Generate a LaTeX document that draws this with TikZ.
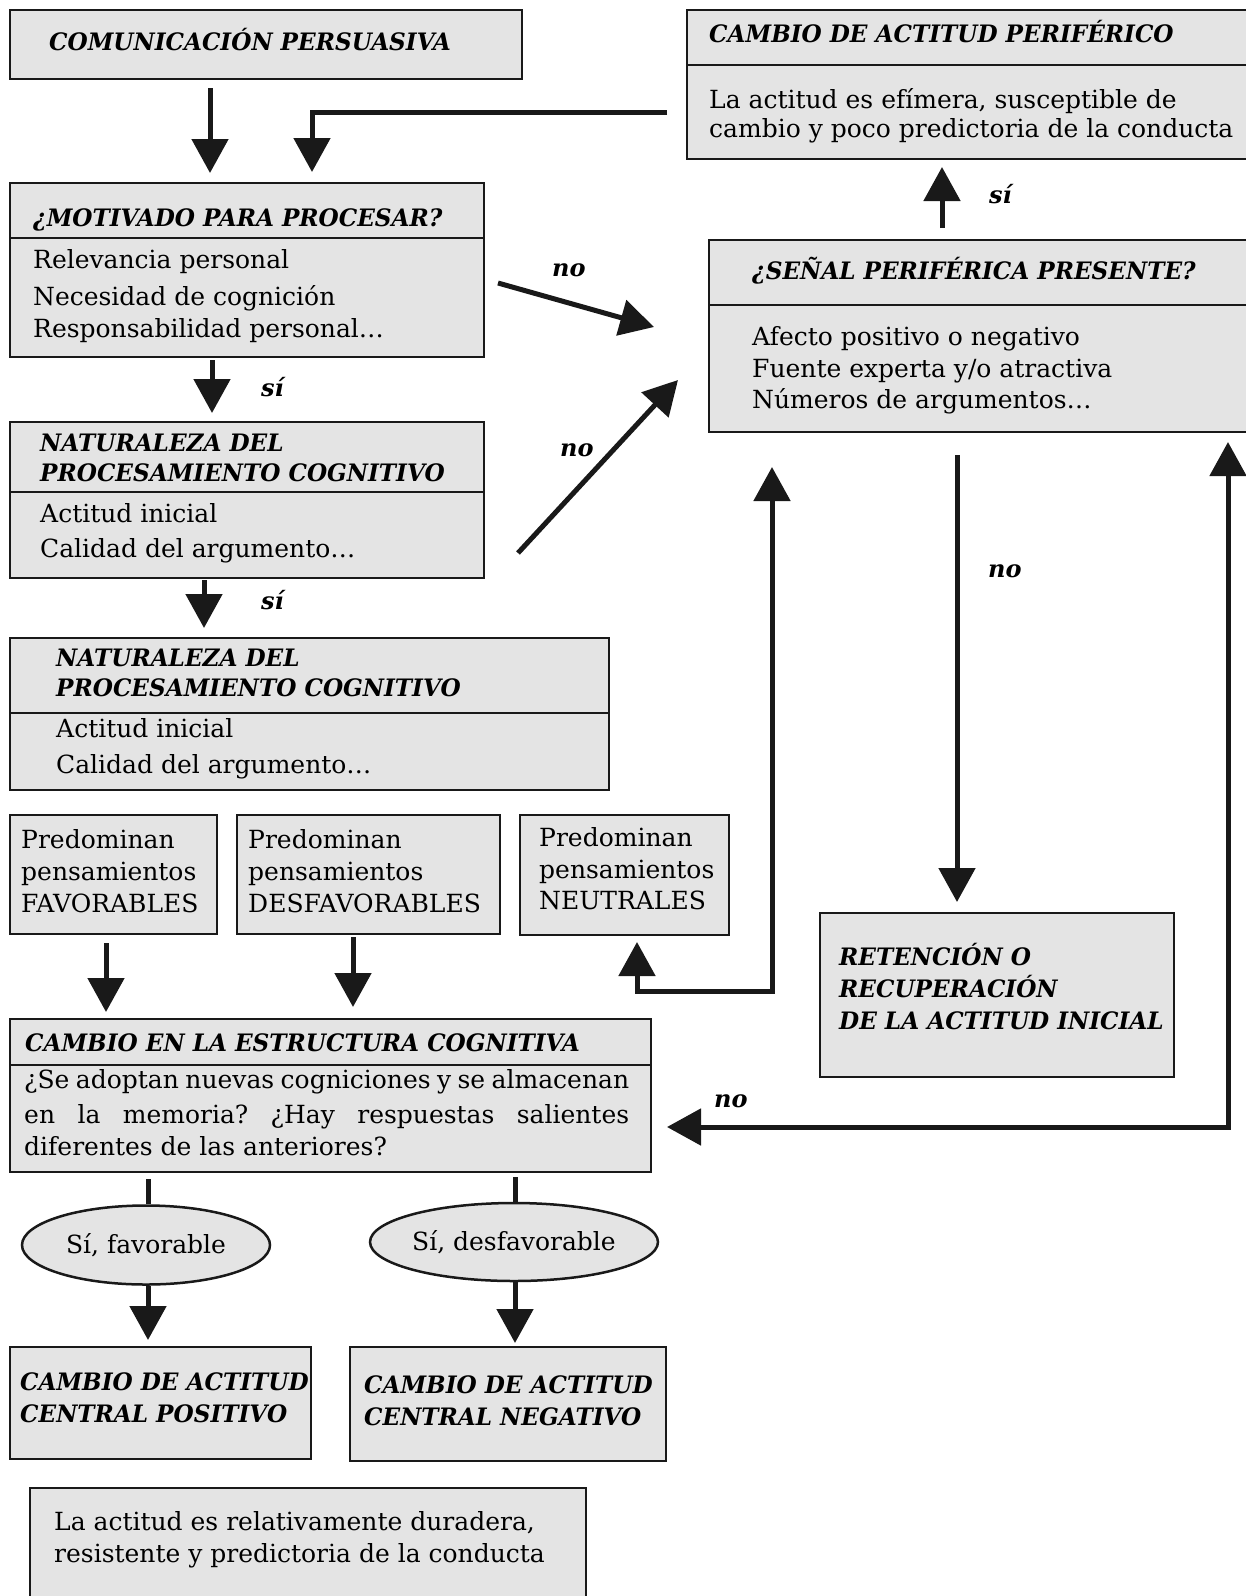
\documentclass[tikz,border=0pt]{standalone}
\usepackage{fontspec}
\setmainfont{DejaVu Serif}
\newfontfamily\hdfont{DejaVu Serif}[FakeStretch=0.965]
\usetikzlibrary{arrows.meta,shapes.geometric}
\definecolor{boxfill}{RGB}{228,228,228}
\definecolor{ink}{RGB}{25,25,25}
\begin{document}
\frenchspacing
\begin{tikzpicture}[x=1pt,y=-1pt,
  frame/.style={draw=ink, line width=2.5pt, fill=boxfill, inner sep=0pt, outer sep=0pt, anchor=north west},
  oval/.style={ellipse, draw=ink, line width=2.5pt, fill=boxfill, inner sep=0pt, font=\fontsize{25}{30}\selectfont},
  hd/.style={anchor=base west, inner sep=0pt, font=\hdfont\bfseries\itshape\fontsize{24}{30}\selectfont},
  tx/.style={anchor=base west, inner sep=0pt, font=\fontsize{25}{31}\selectfont},
  lbl/.style={anchor=base west, inner sep=0pt, font=\bfseries\itshape\fontsize{24}{28}\selectfont},
  arr/.style={draw=ink, line width=5pt, -{Triangle[length=34pt,width=36pt]}},
  darr/.style={draw=ink, line width=5pt, {Triangle[length=34pt,width=36pt]}-{Triangle[length=34pt,width=36pt]}},
  ln/.style={draw=ink, line width=5pt},
  dv/.style={draw=ink, line width=2.5pt}]
\useasboundingbox (0,0) rectangle (1246,1596);
\clip (0,0) rectangle (1246,1596);
\fill[white] (0,0) rectangle (1246,1596);

% ---------- boxes ----------
\node[frame, minimum width=512pt, minimum height=69pt] (com) at (10,10) {};
\node[frame, minimum width=569pt, minimum height=149pt] (perif) at (687,10) {};
\draw[dv] (687,65) -- (1256,65);
\node[frame, minimum width=474pt, minimum height=174pt] (mot) at (10,183) {};
\draw[dv] (10,238) -- (484,238);
\node[frame, minimum width=474pt, minimum height=156pt] (nat1) at (10,422) {};
\draw[dv] (10,492) -- (484,492);
\node[frame, minimum width=599pt, minimum height=152pt] (nat2) at (10,638) {};
\draw[dv] (10,713) -- (609,713);
\node[frame, minimum width=547pt, minimum height=192pt] (senal) at (709,240) {};
\draw[dv] (709,305) -- (1256,305);
\node[frame, minimum width=207pt, minimum height=119pt] (fav) at (10,815) {};
\node[frame, minimum width=263pt, minimum height=119pt] (desf) at (237,815) {};
\node[frame, minimum width=209pt, minimum height=120pt] (neut) at (520,815) {};
\node[frame, minimum width=354pt, minimum height=164pt] (ret) at (820,913) {};
\node[frame, minimum width=641pt, minimum height=153pt] (cambio) at (10,1019) {};
\draw[dv] (10,1065) -- (651,1065);
\node[oval, minimum width=248pt, minimum height=79pt] (ell1) at (146,1245) {Sí, favorable};
\node[oval, minimum width=273pt, minimum height=78pt] (ell2) at (514,1242) {Sí, desfavorable};
\node[frame, minimum width=301pt, minimum height=112pt] (pos) at (10,1347) {};
\node[frame, minimum width=316pt, minimum height=114pt] (neg) at (350,1347) {};
\node[frame, minimum width=556pt, minimum height=140pt] (fin) at (30,1488) {};

% ---------- texts ----------
\node[hd] (t1) at (49,50) {COMUNICACIÓN PERSUASIVA};
\node[hd] (t2) at (709,42) {CAMBIO DE ACTITUD PERIFÉRICO};
\node[tx] (t3) at (709,108) {La actitud es efímera, susceptible de};
\node[tx] (t4) at (709,137) {cambio y poco predictoria de la conducta};
\node[hd] (t5) at (33,226) {¿MOTIVADO PARA PROCESAR?};
\node[tx] (t6) at (33,268) {Relevancia personal};
\node[tx] (t7) at (33,305) {Necesidad de cognición};
\node[tx] (t8) at (33,337) {Responsabilidad personal…};
\node[hd] (t9) at (40,451) {NATURALEZA DEL};
\node[hd] (t10) at (40,481) {PROCESAMIENTO COGNITIVO};
\node[tx] (t11) at (40,522) {Actitud inicial};
\node[tx] (t12) at (40,557) {Calidad del argumento…};
\node[hd] (t13) at (56,666) {NATURALEZA DEL};
\node[hd] (t14) at (56,696) {PROCESAMIENTO COGNITIVO};
\node[tx] (t15) at (56,737) {Actitud inicial};
\node[tx] (t16) at (56,773) {Calidad del argumento…};
\node[hd] (t17) at (752,279) {¿SEÑAL PERIFÉRICA PRESENTE?};
\node[tx] (t18) at (752,345) {Afecto positivo o negativo};
\node[tx] (t19) at (752,377) {Fuente experta y/o atractiva};
\node[tx] (t20) at (752,408) {Números de argumentos…};
\node[tx] (t21) at (21,848) {Predominan};
\node[tx] (t22) at (21,880) {pensamientos};
\node[tx] (t23) at (21,912) {FAVORABLES};
\node[tx] (t24) at (248,848) {Predominan};
\node[tx] (t25) at (248,880) {pensamientos};
\node[tx] (t26) at (248,912) {DESFAVORABLES};
\node[tx] (t27) at (539,846) {Predominan};
\node[tx] (t28) at (539,878) {pensamientos};
\node[tx] (t29) at (539,909) {NEUTRALES};
\node[hd] (t30) at (839,965) {RETENCIÓN O};
\node[hd] (t31) at (839,997) {RECUPERACIÓN};
\node[hd] (t32) at (839,1029) {DE LA ACTITUD INICIAL};
\node[hd] (t33) at (25,1051) {CAMBIO EN LA ESTRUCTURA COGNITIVA};
\node[tx] (t34) at (24,1088) {\makebox[605pt][s]{¿Se adoptan nuevas cogniciones y se almacenan}};
\node[tx] (t35) at (24,1123) {\makebox[605pt][s]{en la memoria? ¿Hay respuestas salientes}};
\node[tx] (t36) at (24,1155) {diferentes de las anteriores?};
\node[hd] (t37) at (20,1390) {CAMBIO DE ACTITUD};
\node[hd] (t38) at (20,1422) {CENTRAL POSITIVO};
\node[hd] (t39) at (364,1393) {CAMBIO DE ACTITUD};
\node[hd] (t40) at (364,1425) {CENTRAL NEGATIVO};
\node[tx] (t41) at (54,1530) {La actitud es relativamente duradera,};
\node[tx] (t42) at (54,1562) {resistente y predictoria de la conducta};

% ---------- connector end points ----------
\coordinate (a1s) at (210,88);   \coordinate (a1e) at (210,173);
\coordinate (a2s) at (667,112);  \coordinate (a2k) at (312,112); \coordinate (a2e) at (312,172);
\coordinate (a3s) at (212,360);  \coordinate (a3e) at (212,413);
\coordinate (a4s) at (498,283);  \coordinate (a4e) at (654,327);
\coordinate (a5s) at (518,553);  \coordinate (a5e) at (678,380);
\coordinate (a6s) at (942,228);  \coordinate (a6e) at (942,167);
\coordinate (a7s) at (204,580);  \coordinate (a7e) at (204,628);
\coordinate (a8s) at (106,943);  \coordinate (a8e) at (106,1012);
\coordinate (a9s) at (353,937);  \coordinate (a9e) at (353,1007);
\coordinate (b1s) at (637,942);  \coordinate (b1k) at (637,991); \coordinate (b1m) at (772,991); \coordinate (b1e) at (772,467);
\coordinate (b2s) at (957,455);  \coordinate (b2e) at (957,902);
\coordinate (b3s) at (667,1127); \coordinate (b3k) at (1228,1127); \coordinate (b3e) at (1228,442);
\coordinate (c1s) at (148,1179);
\coordinate (c2s) at (515,1177);
\coordinate (c3e) at (148,1340);
\coordinate (c4e) at (515,1343);

% ---------- connectors ----------
\draw[arr] (a1s) -- (a1e);
\draw[arr] (a2s) -- (a2k) -- (a2e);
\draw[arr] (a3s) -- (a3e);
\draw[arr] (a4s) -- (a4e);
\draw[arr] (a5s) -- (a5e);
\draw[arr] (a6s) -- (a6e);
\draw[arr] (a7s) -- (a7e);
\draw[arr] (a8s) -- (a8e);
\draw[arr] (a9s) -- (a9e);
\draw[darr] (b1s) -- (b1k) -- (b1m) -- (b1e);
\draw[arr] (b2s) -- (b2e);
\draw[darr] (b3s) -- (b3k) -- (b3e);
\draw[ln] (c1s) -- (c1s |- ell1.north);
\draw[ln] (c2s) -- (c2s |- ell2.north);
\draw[arr] (c3e |- ell1.south) -- (c3e);
\draw[arr] (c4e |- ell2.south) -- (c4e);

% ---------- labels ----------
\node[lbl] (l1) at (261,396) {sí};
\node[lbl] (l2) at (552,276) {no};
\node[lbl] (l3) at (560,456) {no};
\node[lbl] (l4) at (989,203) {sí};
\node[lbl] (l5) at (261,609) {sí};
\node[lbl] (l6) at (988,577) {no};
\node[lbl] (l7) at (714,1107) {no};
\end{tikzpicture}
\end{document}
